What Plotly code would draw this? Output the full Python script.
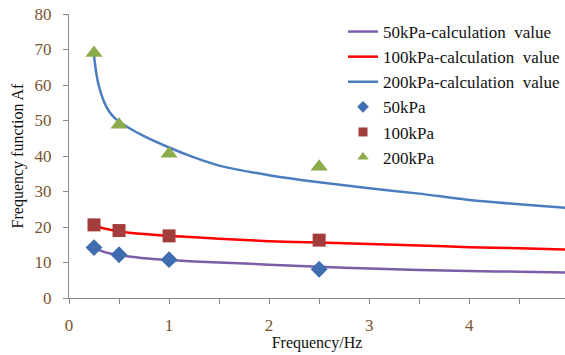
import plotly.graph_objects as go

# Calculated curves (shared frequency grid, Hz)
calc_freq = [0.25, 0.27, 0.3, 0.35, 0.4, 0.45, 0.5, 0.6, 0.75, 1.0, 1.25, 1.5,
             2.0, 2.5, 3.0, 3.5, 4.0, 4.5, 5.0]
calc_50 = [14.2, 13.9, 13.5, 13.0, 12.6, 12.3, 12.1, 11.7, 11.2, 10.7, 10.3, 10.0,
           9.4, 8.8, 8.3, 7.9, 7.6, 7.4, 7.2]
calc_100 = [20.5, 20.3, 20.0, 19.6, 19.3, 19.0, 18.7, 18.4, 18.0, 17.5, 17.1, 16.7,
            16.0, 15.6, 15.2, 14.8, 14.3, 14.0, 13.6]
calc_200 = [68.2, 63.8, 59.5, 55.3, 52.6, 50.9, 49.7, 47.9, 45.6, 42.4, 39.6, 37.3,
            34.6, 32.6, 30.9, 29.4, 27.6, 26.4, 25.3]

# Measured values
test_freq = [0.25, 0.5, 1.0, 2.5, 5.0]
test_50 = [14.2, 12.2, 10.8, 8.1, 7.3]
test_100 = [20.6, 19.0, 17.5, 16.3, 13.5]
test_200 = [69.0, 48.8, 40.6, 37.0, 20.5]

x_tick_vals = [0, 0.5, 1, 1.5, 2, 2.5, 3, 3.5, 4, 4.5, 5]
x_tick_text = ["0", "", "1", "", "2", "", "3", "", "4", "", "5"]
y_tick_vals = [0, 10, 20, 30, 40, 50, 60, 70, 80]

serif = "Liberation Serif"
tick_color = "#7a5532"

line_specs = [
    ("50kPa-calculation  value", calc_50, "#7b5ea7"),
    ("100kPa-calculation  value", calc_100, "#ff0000"),
    ("200kPa-calculation  value", calc_200, "#4a7ebf"),
]
marker_specs = [
    ("50kPa", test_50, "diamond", 13, 9, "#3f6db0"),
    ("100kPa", test_100, "square", 13, 9, "#a33d3c"),
    ("200kPa", test_200, "triangle-up", 15, 10, "#8cac4c"),
]

fig = go.Figure()
for name, vals, color in line_specs:
    fig.add_trace(go.Scatter(x=calc_freq, y=vals, mode="lines", name=name,
                             line=dict(color=color, width=2.5, shape="spline",
                                       smoothing=0.6),
                             cliponaxis=False))
for name, vals, sym, size, leg_size, color in marker_specs:
    # plotted points
    fig.add_trace(go.Scatter(x=test_freq, y=vals, mode="markers", name=name,
                             marker=dict(symbol=sym, size=size, color=color),
                             cliponaxis=False, showlegend=False))
    # smaller legend swatch
    fig.add_trace(go.Scatter(x=[None], y=[None], mode="markers", name=name,
                             marker=dict(symbol=sym, size=leg_size, color=color)))

fig.update_layout(
    width=565, height=355,
    margin=dict(l=69, r=0, t=14, b=57),
    paper_bgcolor="white", plot_bgcolor="white",
    font=dict(family=serif, size=16, color="#111"),
    legend=dict(x=1.0, y=1.0, xanchor="right", yanchor="top",
                bgcolor="rgba(255,255,255,0)", font=dict(size=17, family=serif),
                tracegroupgap=0, itemsizing="trace"),
    xaxis=dict(range=[0, 4.957], tickvals=x_tick_vals, ticktext=x_tick_text,
               ticks="outside", ticklen=5, tickcolor="#888", showline=True,
               linecolor="#888", linewidth=1.2, showgrid=False, zeroline=False,
               ticklabelstandoff=6,
               tickfont=dict(size=17, color=tick_color, family=serif),
               title=dict(text="Frequency/Hz", standoff=0,
                          font=dict(size=16, color="#111", family=serif))),
    yaxis=dict(range=[0, 80], tickvals=y_tick_vals, ticks="outside", ticklen=5,
               tickcolor="#888", showline=True, linecolor="#888", linewidth=1.2,
               showgrid=False, zeroline=False, ticklabelstandoff=8,
               tickfont=dict(size=17, color=tick_color, family=serif),
               title=dict(text="Frequency function Af", standoff=6,
                          font=dict(size=16, color="#111", family=serif))),
)

fig.write_html("out.html")
